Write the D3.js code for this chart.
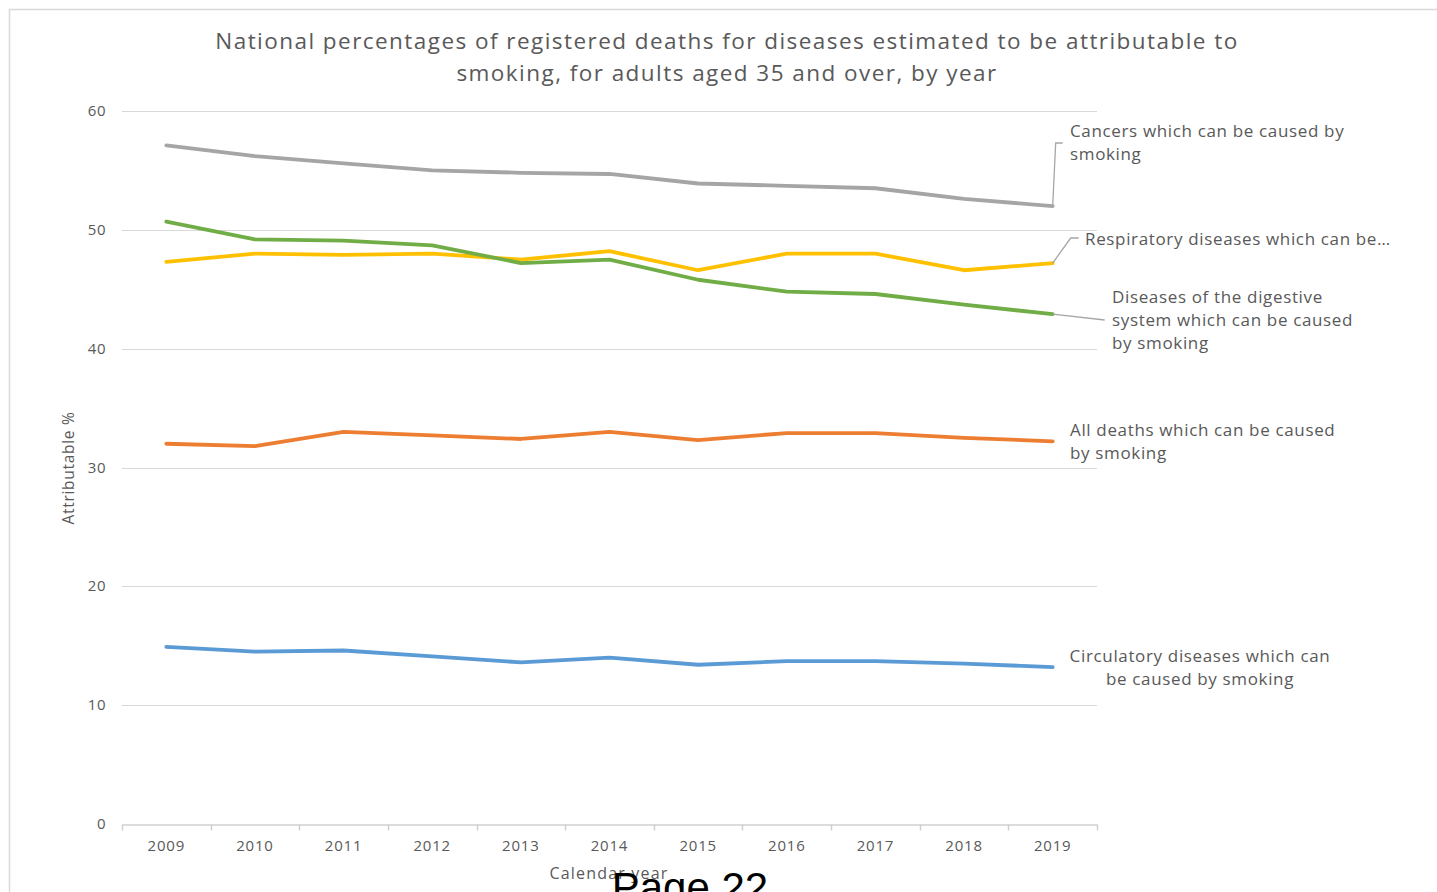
<!DOCTYPE html>
<html lang="en">
<head>
  <meta charset="UTF-8">
  <title>Smoking attributable deaths by year</title>
  <script src="https://d3js.org/d3.v7.min.js"></script>
  <style>
    body {
      margin: 0;
      background: #fff;
      overflow: hidden;
    }

    svg {
      display: block;
      font-family: "Open Sans", "Noto Sans", sans-serif;
    }

    .grid line {
      stroke: #d9d9d9;
      stroke-width: 1px;
    }

    .tick-label, .axis-title, .series-label {
      fill: #595959;
    }

    .leader {
      fill: none;
      stroke: #a6a6a6;
      stroke-width: 1.3px;
    }

    .series {
      fill: none;
      stroke-width: 3.8px;
      stroke-linejoin: round;
      stroke-linecap: round;
    }
  </style>
</head>
<body>
  <svg width="1437" height="892"></svg>

  <script>
    const years = ["2009", "2010", "2011", "2012", "2013", "2014", "2015", "2016", "2017", "2018", "2019"];
    const yTicks = [0, 10, 20, 30, 40, 50, 60];

    const cancers     = [57.1, 56.2, 55.6, 55.0, 54.8, 54.7, 53.9, 53.7, 53.5, 52.6, 52.0];
    const respiratory = [47.3, 48.0, 47.9, 48.0, 47.5, 48.2, 46.6, 48.0, 48.0, 46.6, 47.2];
    const digestive   = [50.7, 49.2, 49.1, 48.7, 47.2, 47.5, 45.8, 44.8, 44.6, 43.7, 42.9];
    const allDeaths   = [32.0, 31.8, 33.0, 32.7, 32.4, 33.0, 32.3, 32.9, 32.9, 32.5, 32.2];
    const circulatory = [14.9, 14.5, 14.6, 14.1, 13.6, 14.0, 13.4, 13.7, 13.7, 13.5, 13.2];

    const series = [
      { name: "Cancers which can be caused by smoking", values: cancers, color: "#a5a5a5" },
      { name: "Respiratory diseases which can be caused by smoking", values: respiratory, color: "#ffc000" },
      { name: "Diseases of the digestive system which can be caused by smoking", values: digestive, color: "#70ad47" },
      { name: "All deaths which can be caused by smoking", values: allDeaths, color: "#ed7d31" },
      { name: "Circulatory diseases which can be caused by smoking", values: circulatory, color: "#5b9bd5" }
    ];

    const svg = d3.select("svg");

    // chart frame (right edge runs off the page)
    svg.append("path")
      .attr("d", "M9.5,892 V9.5 H1437")
      .attr("fill", "none")
      .attr("stroke", "#d9d9d9")
      .attr("stroke-width", 1.5);

    const x = d3.scaleBand().domain(years).range([122, 1097]);
    const y = d3.scaleLinear().domain([0, 60]).range([824, 111]);

    // title
    const title = svg.append("text")
      .attr("text-anchor", "middle")
      .attr("fill", "#595959")
      .attr("font-size", 22.5)
      .attr("letter-spacing", 1.45);
    title.append("tspan").attr("x", 727).attr("y", 49)
      .text("National percentages of registered deaths for diseases estimated to be attributable to");
    title.append("tspan").attr("x", 727).attr("y", 81)
      .text("smoking, for adults aged 35 and over, by year");

    // gridlines
    svg.append("g")
      .attr("class", "grid")
      .selectAll("line")
      .data(yTicks.filter(d => d > 0))
      .enter().append("line")
      .attr("x1", 122)
      .attr("x2", 1097)
      .attr("y1", d => Math.round(y(d)) + 0.5)
      .attr("y2", d => Math.round(y(d)) + 0.5);

    // y labels
    svg.append("g")
      .selectAll("text")
      .data(yTicks)
      .enter().append("text")
      .attr("class", "tick-label")
      .attr("x", 106)
      .attr("y", d => y(d) + 5)
      .attr("text-anchor", "end")
      .attr("font-size", 15)
      .attr("letter-spacing", 0.5)
      .text(d => d);

    // x axis
    const xAxis = svg.append("g")
      .attr("transform", "translate(0,824.5)")
      .call(d3.axisBottom(x).tickSize(0).tickFormat(""));
    xAxis.select(".domain").attr("stroke", "#d0d0d0").attr("stroke-width", 1.5);
    xAxis.selectAll(".tick").remove();

    xAxis.selectAll("line.sep")
      .data(years.map(d => x(d)).concat([x.range()[1]]))
      .enter().append("line")
      .attr("class", "sep")
      .attr("x1", d => Math.round(d) + 0.5)
      .attr("x2", d => Math.round(d) + 0.5)
      .attr("y1", 0)
      .attr("y2", 6)
      .attr("stroke", "#d0d0d0")
      .attr("stroke-width", 1.5);

    svg.append("g")
      .selectAll("text")
      .data(years)
      .enter().append("text")
      .attr("class", "tick-label")
      .attr("x", d => x(d) + x.bandwidth() / 2)
      .attr("y", 851)
      .attr("text-anchor", "middle")
      .attr("font-size", 15)
      .attr("letter-spacing", 0.8)
      .text(d => d);

    // axis titles
    svg.append("text")
      .attr("class", "axis-title")
      .attr("x", 609)
      .attr("y", 879)
      .attr("text-anchor", "middle")
      .attr("font-size", 16)
      .attr("letter-spacing", 1.2)
      .text("Calendar year");

    svg.append("text")
      .attr("class", "axis-title")
      .attr("transform", "translate(74,468) rotate(-90)")
      .attr("text-anchor", "middle")
      .attr("font-size", 15.5)
      .attr("letter-spacing", 0.7)
      .text("Attributable %");

    // lines
    const line = d3.line()
      .x((d, i) => x(years[i]) + x.bandwidth() / 2)
      .y(d => y(d));

    svg.append("g")
      .selectAll("path")
      .data(series)
      .enter().append("path")
      .attr("class", "series")
      .attr("stroke", d => d.color)
      .attr("d", d => line(d.values));

    // end labels with leader lines
    const lastX = x("2019") + x.bandwidth() / 2;
    const endY = s => y(s.values[s.values.length - 1]);

    svg.append("path").attr("class", "leader")
      .attr("d", `M${lastX},${endY(series[0])} L${lastX + 3},143 H${lastX + 10}`);
    svg.append("path").attr("class", "leader")
      .attr("d", `M${lastX},${endY(series[1])} L${lastX + 18},238 H${lastX + 26}`);
    svg.append("path").attr("class", "leader")
      .attr("d", `M${lastX},${endY(series[2])} L${lastX + 52},320`);

    const labels = [
      { lines: ["Cancers which can be caused by", "smoking"], x: 1070, y: 137, anchor: "start" },
      { lines: ["Respiratory diseases which can be…"], x: 1085, y: 245, anchor: "start" },
      { lines: ["Diseases of the digestive", "system which can be caused", "by smoking"], x: 1112, y: 303, anchor: "start" },
      { lines: ["All deaths which can be caused", "by smoking"], x: 1070, y: 436, anchor: "start" },
      { lines: ["Circulatory diseases which can", "be caused by smoking"], x: 1200, y: 662, anchor: "middle" }
    ];

    labels.forEach(l => {
      const t = svg.append("text")
        .attr("class", "series-label")
        .attr("font-size", 17)
        .attr("letter-spacing", 0.65)
        .attr("text-anchor", l.anchor);
      l.lines.forEach((s, i) => {
        t.append("tspan").attr("x", l.x).attr("y", l.y + i * 23).text(s);
      });
    });

    // page number bleeding in from the document underneath
    svg.append("text")
      .attr("x", 690)
      .attr("y", 902)
      .attr("text-anchor", "middle")
      .attr("font-family", "'Liberation Sans', Arial, sans-serif")
      .attr("font-size", 42)
      .attr("fill", "#000")
      .text("Page 22");
  </script>
</body>
</html>
